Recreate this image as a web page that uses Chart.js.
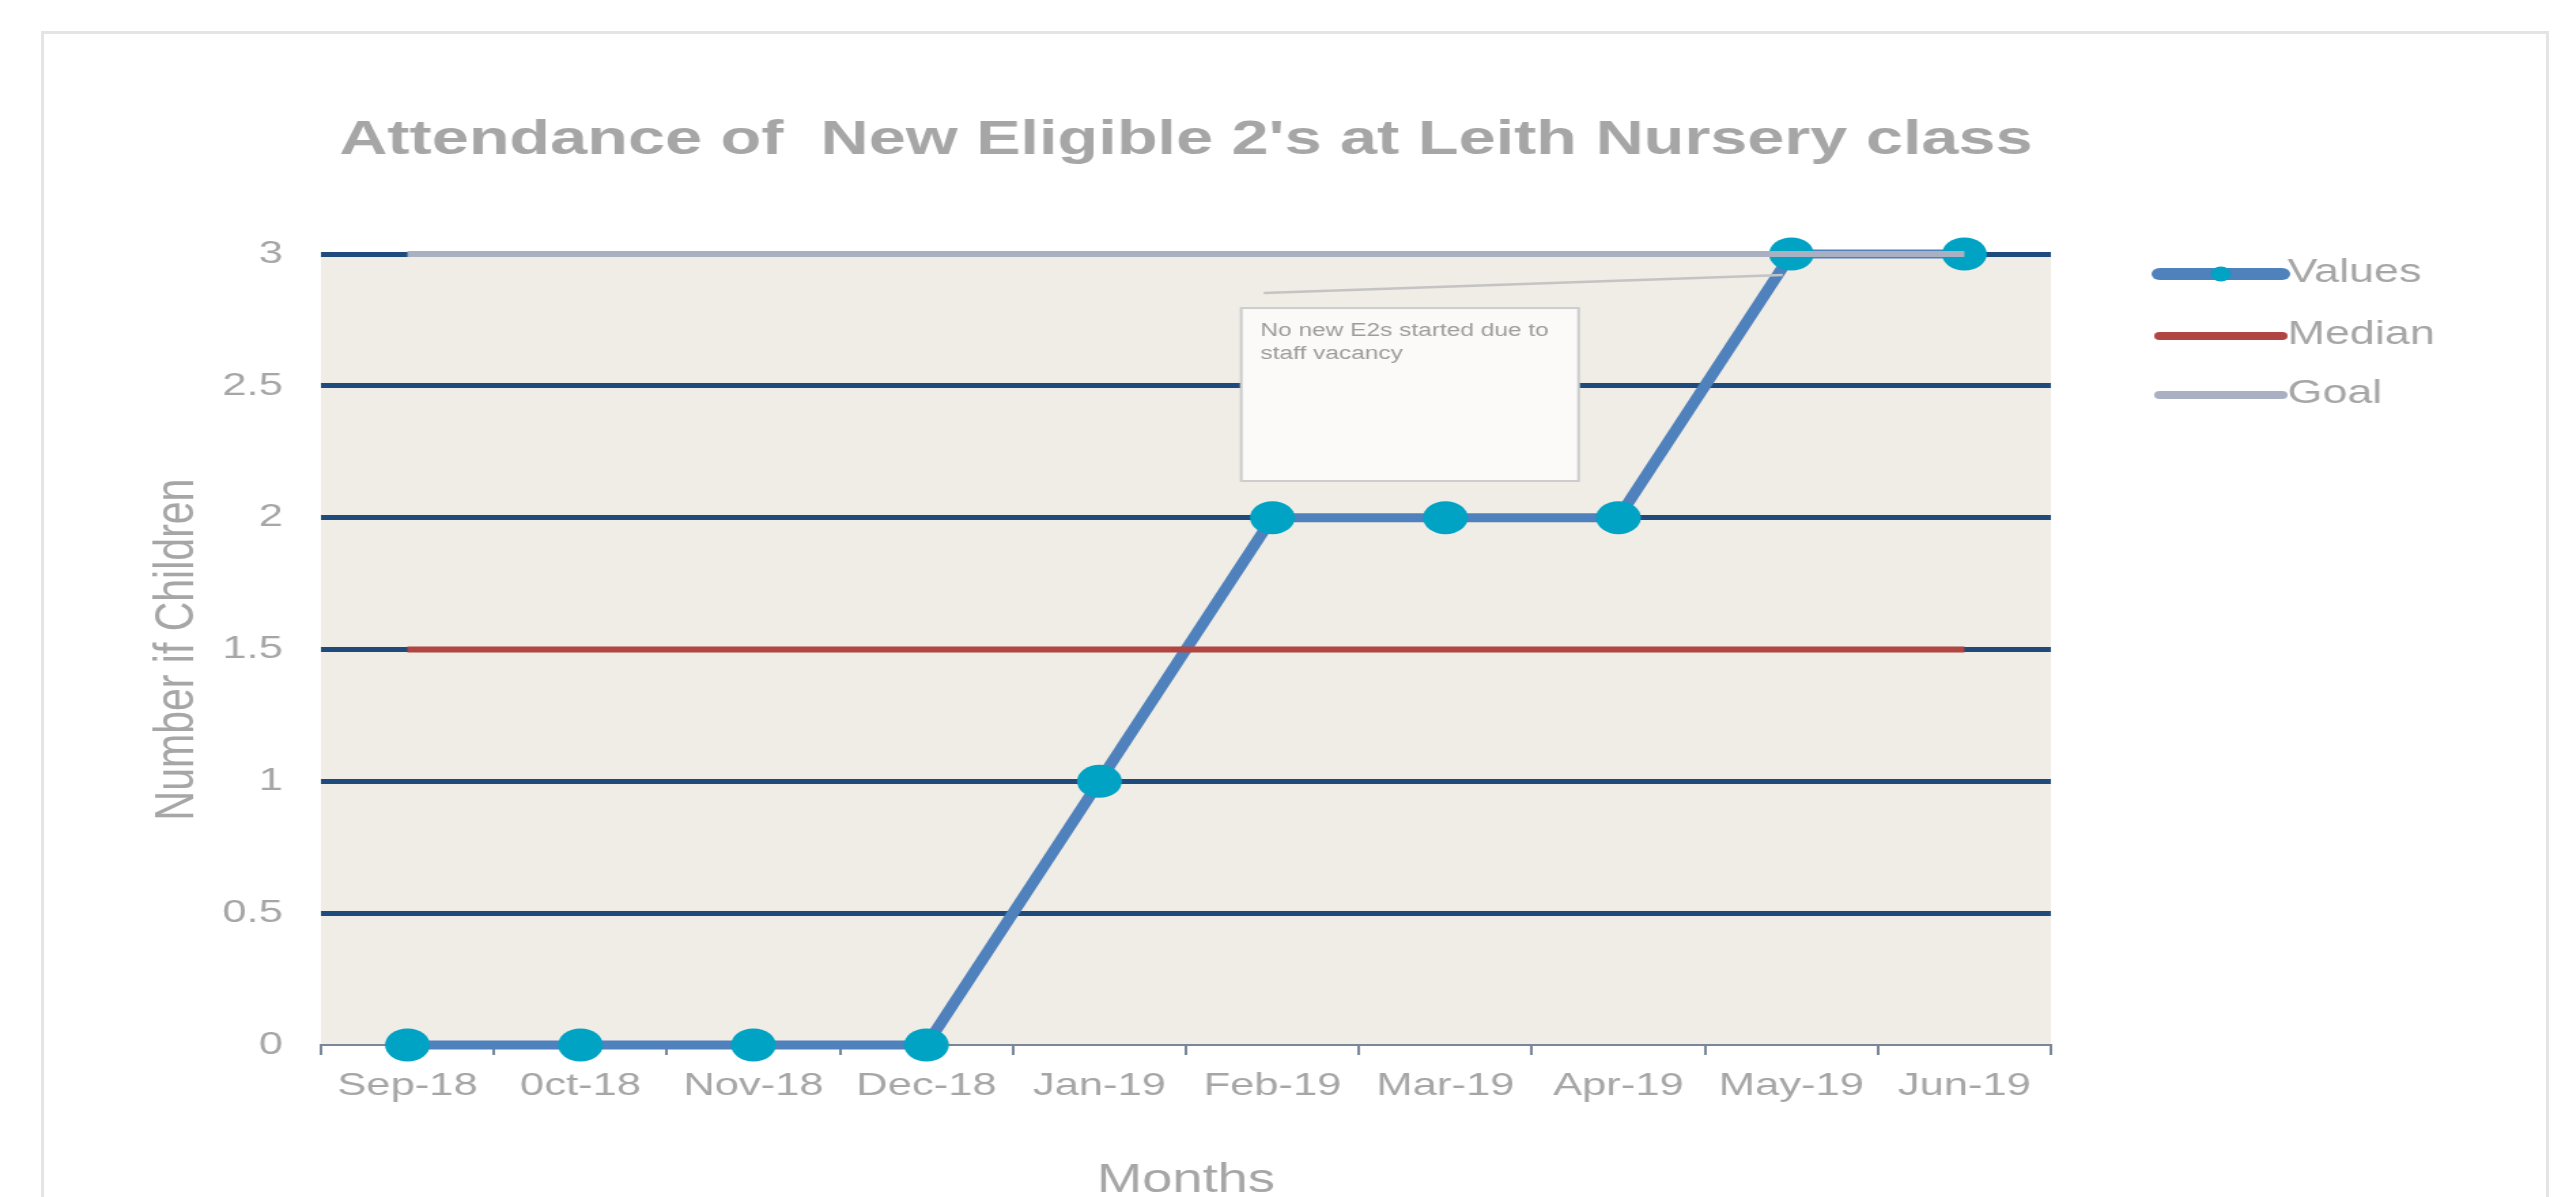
<!DOCTYPE html>
<html>
<head>
<meta charset="utf-8">
<script src="https://cdn.jsdelivr.net/npm/chart.js@4/dist/chart.umd.min.js"></script>
<style>
  html, body { margin:0; padding:0; background:#ffffff; overflow:hidden; }
  #card { position:absolute; left:41px; top:31px; width:2508px; height:1300px; border:3px solid #e4e4e4; box-sizing:border-box; }
  #wrap { position:absolute; left:0; top:0; width:1880px; height:1197px; transform:scaleX(1.36); transform-origin:0 0; }
  canvas { display:block; }
</style>
</head>
<body>
<div id="card"></div>
<div id="wrap"><canvas id="c" width="1880" height="1197"></canvas></div>
<script>
// ---- data ----
const chartTitle = "Attendance of  New Eligible 2's at Leith Nursery class";
const months = ['Sep-18','0ct-18','Nov-18','Dec-18','Jan-19','Feb-19','Mar-19','Apr-19','May-19','Jun-19'];
const valuesSeries = [0, 0, 0, 0, 1, 2, 2, 2, 3, 3];
const medianSeries = [1.5, 1.5, 1.5, 1.5, 1.5, 1.5, 1.5, 1.5, 1.5, 1.5];
const goalSeries = [3, 3, 3, 3, 3, 3, 3, 3, 3, 3];
const seriesNames = ['Values', 'Median', 'Goal'];
const yTickLabels = ['0', '0.5', '1', '1.5', '2', '2.5', '3'];
const xTitle = 'Months';
const yTitle = 'Number if Children';
const noteLines = ['No new E2s started due to', 'staff vacancy'];

// ---- styling ----
const FONT = "'Liberation Sans', Arial, sans-serif";
const TEXT_GRAY = '#a6a6a6';
const C_VALUES = '#4f81bd';
const C_MARKER = '#00a3c4';
const C_MEDIAN = '#b04541';
const C_GOAL = '#a8b0c2';
const C_GRID = '#1f4a7c';
const C_AXIS = '#7a8799';

// annotation placement in data units (category index, value)
const noteBox = { x0: 4.82, x1: 6.77, yTop: 2.795, yBottom: 2.139 };
const noteLink = { from: [4.95, 2.852], to: [7.95, 2.92] };

const bgPlugin = {
  id: 'plotBg',
  beforeDraw(chart) {
    const { ctx, chartArea: a } = chart;
    ctx.save();
    ctx.fillStyle = '#f0ece6';
    ctx.fillRect(a.left, a.top, a.right - a.left, a.bottom - a.top);
    ctx.restore();
  }
};

const notePlugin = {
  id: 'note',
  afterDatasetsDraw(chart) {
    const { ctx, scales: { x, y } } = chart;
    ctx.save();
    ctx.strokeStyle = '#c4c4c4';
    ctx.lineWidth = 2.5;
    ctx.beginPath();
    ctx.moveTo(x.getPixelForValue(noteLink.from[0]), y.getPixelForValue(noteLink.from[1]));
    ctx.lineTo(x.getPixelForValue(noteLink.to[0]), y.getPixelForValue(noteLink.to[1]));
    ctx.stroke();
    const bx0 = x.getPixelForValue(noteBox.x0), bx1 = x.getPixelForValue(noteBox.x1);
    const by0 = y.getPixelForValue(noteBox.yTop), by1 = y.getPixelForValue(noteBox.yBottom);
    ctx.fillStyle = '#fbfaf8';
    ctx.fillRect(bx0, by0, bx1 - bx0, by1 - by0);
    ctx.strokeStyle = '#cdcdcd';
    ctx.lineWidth = 2;
    ctx.strokeRect(bx0, by0, bx1 - bx0, by1 - by0);
    ctx.fillStyle = '#9c9c9c';
    ctx.font = '18px ' + FONT;
    ctx.textAlign = 'left';
    ctx.textBaseline = 'alphabetic';
    noteLines.forEach((t, i) => ctx.fillText(t, bx0 + 14, by0 + 28 + i * 23));
    ctx.restore();
  }
};

const legendPlugin = {
  id: 'customLegend',
  afterDraw(chart) {
    const { ctx, chartArea: a } = chart;
    const ds = chart.data.datasets;
    const x1 = a.right + 80, x2 = a.right + 170, tx = a.right + 174;
    const rows = [20, 82, 141];
    const widths = [12, 8, 8];
    ctx.save();
    ds.forEach((d, i) => {
      const yy = a.top + rows[i];
      ctx.strokeStyle = d.borderColor;
      ctx.lineWidth = widths[i];
      ctx.lineCap = 'round';
      ctx.beginPath();
      ctx.moveTo(x1, yy);
      ctx.lineTo(x2, yy);
      ctx.stroke();
      if (d.pointRadius > 0) {
        ctx.fillStyle = d.pointBackgroundColor;
        ctx.beginPath();
        ctx.arc((x1 + x2) / 2, yy, 7.4, 0, Math.PI * 2);
        ctx.fill();
      }
      ctx.fillStyle = TEXT_GRAY;
      ctx.font = '33px ' + FONT;
      ctx.textAlign = 'left';
      ctx.textBaseline = 'middle';
      ctx.fillText(d.label, tx, yy - 1.5);
    });
    ctx.restore();
  }
};

new Chart(document.getElementById('c'), {
  type: 'line',
  data: {
    labels: months,
    datasets: [
      { label: seriesNames[0], data: valuesSeries, borderColor: C_VALUES, borderWidth: 9,
        pointRadius: 16.5, pointHoverRadius: 16.5, pointBackgroundColor: C_MARKER, pointBorderWidth: 0,
        order: 3, clip: false, tension: 0 },
      { label: seriesNames[1], data: medianSeries, borderColor: C_MEDIAN, borderWidth: 6,
        pointRadius: 0, order: 2, clip: false },
      { label: seriesNames[2], data: goalSeries, borderColor: C_GOAL, borderWidth: 6,
        pointRadius: 0, order: 1, clip: false }
    ]
  },
  options: {
    responsive: false,
    animation: false,
    events: [],
    layout: { padding: { left: 110, right: 372, top: 115.5, bottom: 0 } },
    plugins: {
      legend: { display: false },
      tooltip: { enabled: false },
      title: {
        display: true, text: chartTitle, color: TEXT_GRAY, fullSize: false,
        font: { family: FONT, size: 49, weight: 'bold', lineHeight: 1 },
        padding: { top: 0, bottom: 89.5 }
      }
    },
    scales: {
      x: {
        type: 'category', offset: true,
        grid: { offset: true, drawOnChartArea: false, drawTicks: true, tickLength: 10, color: C_AXIS, lineWidth: 2 },
        border: { display: true, color: C_AXIS, width: 2 },
        ticks: { color: TEXT_GRAY, font: { family: FONT, size: 32 }, padding: 12, maxRotation: 0, autoSkip: false },
        title: { display: true, text: xTitle, color: TEXT_GRAY, font: { family: FONT, size: 40, lineHeight: 1 }, padding: { top: 0, bottom: -4 } },
        afterFit(s) { s.height = 152; }
      },
      y: {
        min: 0, max: 3,
        ticks: { stepSize: 0.5, color: TEXT_GRAY, font: { family: FONT, size: 32 }, padding: 28,
                 callback: (v, i) => yTickLabels[i] },
        grid: { color: (c) => (c.tick && c.tick.value === 0) ? 'rgba(0,0,0,0)' : C_GRID, lineWidth: 5, drawTicks: false },
        border: { display: false },
        title: { display: true, text: yTitle, color: TEXT_GRAY, font: { family: FONT, size: 41, lineHeight: 1 }, padding: 0 },
        afterFit(s) { s.width = 126; }
      }
    }
  },
  plugins: [bgPlugin, notePlugin, legendPlugin]
});
</script>
</body>
</html>
